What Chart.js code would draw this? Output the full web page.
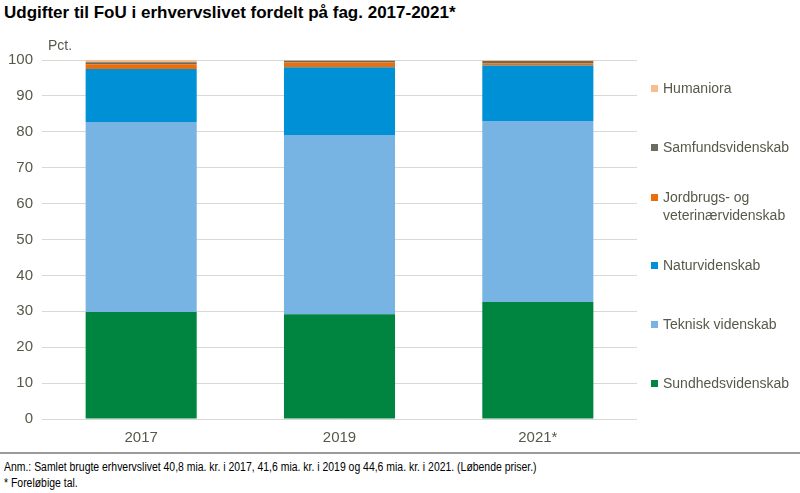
<!DOCTYPE html>
<html lang="da">
  <head>
    <meta charset="UTF-8" />
    <title>Udgifter til FoU i erhvervslivet</title>
    <style>
      body { margin: 0; width: 800px; height: 493px; background: #fff; font-family: 'Liberation Sans', Arial, sans-serif; position: relative; overflow: hidden; }
      .title { position: absolute; left: 4px; top: 3px; font-size: 17px; font-weight: bold; color: #000; }
      .chart-box { position: absolute; left: 0; top: 30px; width: 800px; height: 420px; }
      .rule { position: absolute; left: 0; top: 452px; width: 800px; height: 2px; background: #9a9a9a; }
      .note { position: absolute; left: 4px; font-size: 12.5px; white-space: nowrap; transform: scaleX(0.835); transform-origin: left top; color: #000; }
    </style>
  </head>
  <body>
    <div class="title">Udgifter til FoU i erhvervslivet fordelt på fag. 2017-2021*</div>
    <div class="chart-box"><canvas id="myChart"></canvas></div>
    <div class="rule"></div>
    <div class="note" style="top:460px">Anm.: Samlet brugte erhvervslivet 40,8 mia. kr. i 2017, 41,6 mia. kr. i 2019 og 44,6 mia. kr. i 2021. (Løbende priser.)</div>
    <div class="note" style="top:476px">* Foreløbige tal.</div>

    <script src="https://cdn.jsdelivr.net/npm/chart.js"></script>
    <script>
      // data (pct.)
      const years = ["2017", "2019", "2021*"];
      const sundhed = [29.8, 29.2, 32.6];
      const teknisk = [52.9, 49.9, 50.4];
      const natur = [14.8, 18.9, 15.5];
      const jordbrug = [1.3, 1.3, 0.6];
      const samfund = [0.6, 0.5, 0.6];
      const humaniora = [0.6, 0.2, 0.3];
      const yTicks = [0, 10, 20, 30, 40, 50, 60, 70, 80, 90, 100];

      const axisFont = "'Liberation Sans', Arial, sans-serif";
      const textGrey = "#58584a";

      const series = [
        { label: "Sundhedsvidenskab", data: sundhed, color: "#008540" },
        { label: "Teknisk videnskab", data: teknisk, color: "#78b4e3" },
        { label: "Naturvidenskab", data: natur, color: "#0090d6" },
        { label: ["Jordbrugs- og", "veterinærvidenskab"], data: jordbrug, color: "#ec6d0b" },
        { label: "Samfundsvidenskab", data: samfund, color: "#6c6c5e" },
        { label: "Humaniora", data: humaniora, color: "#f7bd8a" },
      ];

      // legend on the right, top item = last dataset
      const sideLegend = {
        id: "sideLegend",
        afterDraw(chart) {
          const ctx = chart.ctx;
          const sets = chart.data.datasets;
          ctx.save();
          ctx.font = "14px " + axisFont;
          ctx.textBaseline = "middle";
          const x = chart.chartArea.right + 14;
          let y = chart.chartArea.top + 29;
          for (let i = sets.length - 1; i >= 0; i--) {
            const ds = sets[i];
            const lines = Array.isArray(ds.label) ? ds.label : [ds.label];
            const top = y - (lines.length - 1) * 9;
            ctx.fillStyle = ds.backgroundColor;
            ctx.fillRect(x, top - 4, 7, 7);
            ctx.fillStyle = textGrey;
            lines.forEach((t, k) => ctx.fillText(t, x + 12, top + k * 18));
            y += 59;
          }
          ctx.restore();
        }
      };

      const pctLabel = {
        id: "pctLabel",
        afterDraw(chart) {
          const ctx = chart.ctx;
          ctx.save();
          ctx.font = "14px " + axisFont;
          ctx.fillStyle = textGrey;
          ctx.textBaseline = "middle";
          ctx.fillText("Pct.", chart.chartArea.left + 6, chart.chartArea.top - 14);
          ctx.restore();
        }
      };

      new Chart(document.getElementById("myChart"), {
        type: "bar",
        data: {
          labels: years,
          datasets: series.map(s => ({
            label: s.label,
            data: s.data,
            backgroundColor: s.color,
            borderWidth: 0,
            categoryPercentage: 1,
            barPercentage: 0.56,
          })),
        },
        options: {
          responsive: true,
          maintainAspectRatio: false,
          animation: false,
          layout: { padding: { top: 30, right: 163, left: 0, bottom: 4 } },
          plugins: {
            legend: { display: false },
            tooltip: { enabled: false },
          },
          scales: {
            x: {
              stacked: true,
              afterFit(scale) { scale.height = 27; },
              grid: { display: false, drawTicks: false },
              border: { display: false },
              ticks: { color: textGrey, font: { family: axisFont, size: 15 }, padding: 10 },
            },
            y: {
              stacked: true,
              min: 0,
              max: 100,
              afterBuildTicks(scale) { scale.ticks = yTicks.map(v => ({ value: v })); },
              afterFit(scale) { scale.width = 42; },
              grid: { color: "#d9d9d4", lineWidth: 1, drawTicks: false },
              border: { display: false },
              ticks: { color: textGrey, font: { family: axisFont, size: 15 }, padding: 9 },
            },
          },
        },
        plugins: [sideLegend, pctLabel],
      });
    </script>
  </body>
</html>
